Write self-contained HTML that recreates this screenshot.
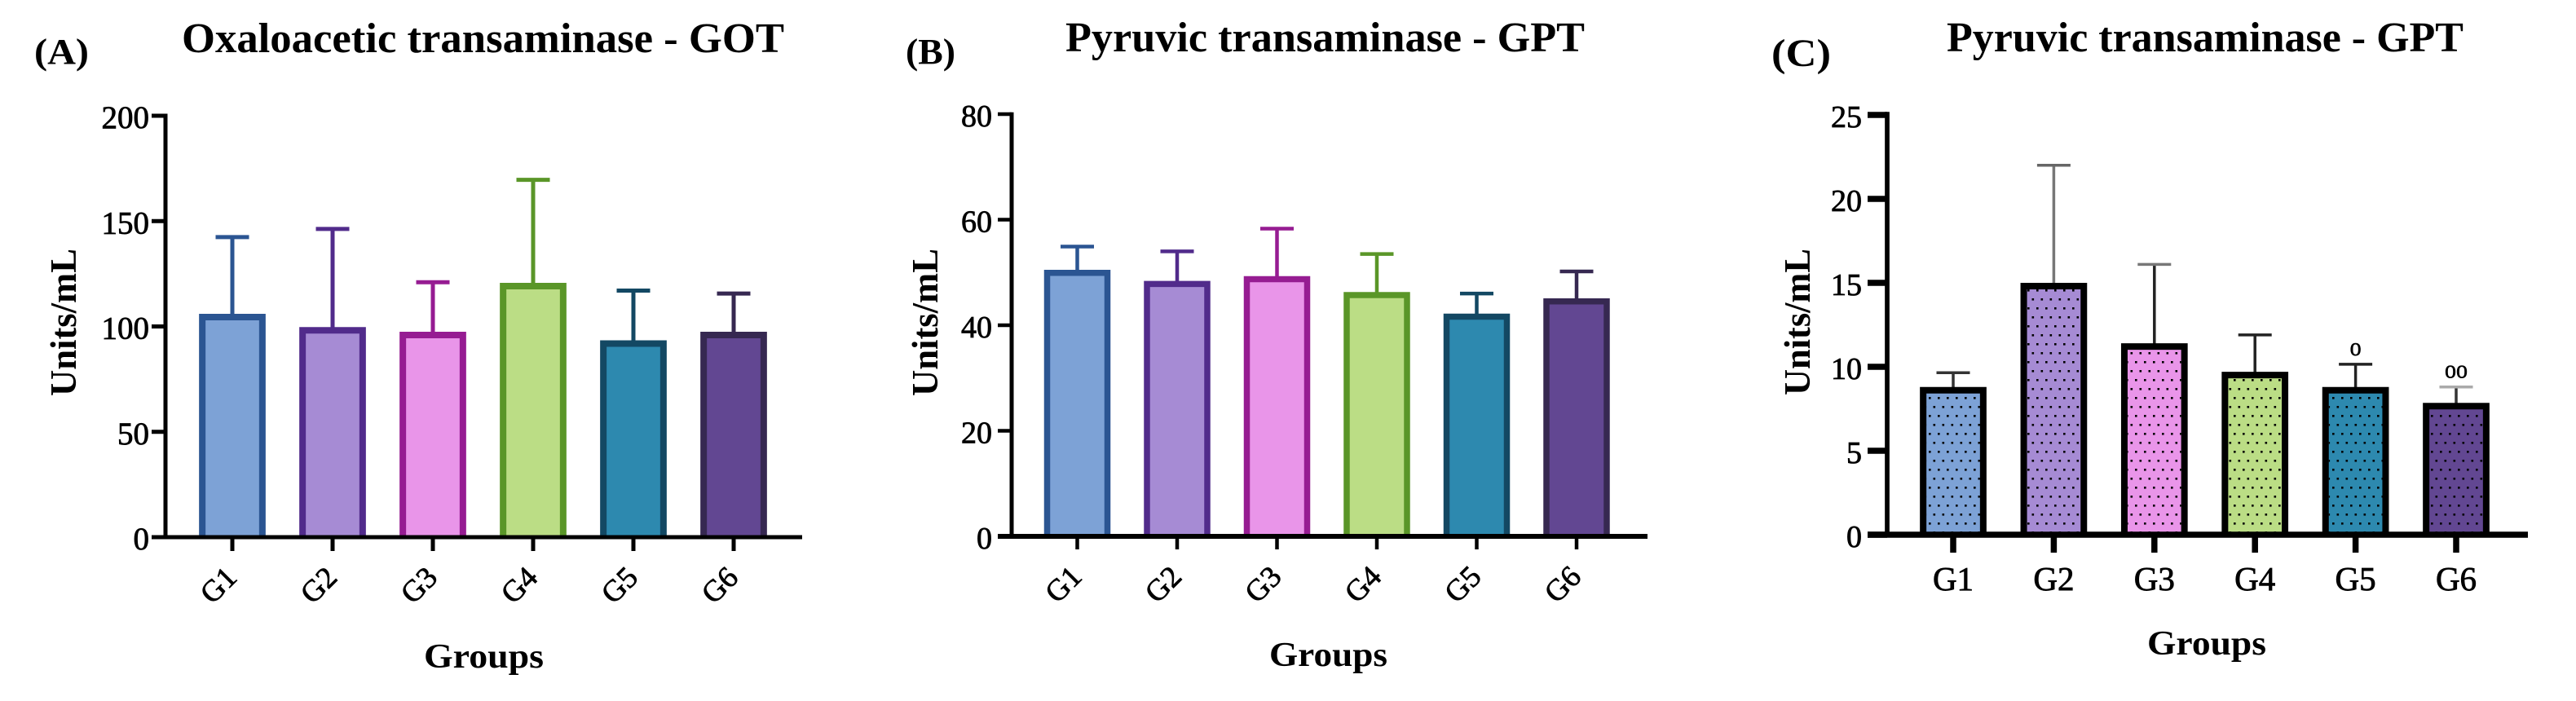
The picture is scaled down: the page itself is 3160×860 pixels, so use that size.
<!DOCTYPE html>
<html lang="en">
<head>
<meta charset="utf-8">
<title>Transaminase bar charts</title>
<style>
html,body{margin:0;padding:0;background:#fff;}
svg{display:block;}
text{font-family:"Liberation Serif",serif;fill:#000;}
.heading{font-weight:bold;font-size:52px;}
.panel-tag{font-weight:bold;}
.axis-title{font-weight:bold;font-size:42px;}
.y-title{font-weight:bold;font-size:45px;}
.tick-label{stroke:#000;stroke-width:.8px;}
</style>
</head>
<body>
<svg id="figure" xmlns="http://www.w3.org/2000/svg" width="3160" height="860" viewBox="0 0 3160 860">
  <defs>
    <pattern id="dots" patternUnits="userSpaceOnUse" width="11" height="22">
      <rect x="1" y="3" width="2.6" height="2.6" fill="#000"/>
      <rect x="6.5" y="14" width="2.6" height="2.6" fill="#000"/>
    </pattern>
  </defs>
  <rect width="3160" height="860" fill="#fff"/>
  <text class="panel-tag" x="42" y="78" font-size="44" textLength="67" lengthAdjust="spacingAndGlyphs">(A)</text>
  <text class="panel-tag" x="1111" y="78" font-size="44" textLength="61" lengthAdjust="spacingAndGlyphs">(B)</text>
  <text class="panel-tag" x="2173" y="81" font-size="48" textLength="73" lengthAdjust="spacingAndGlyphs">(C)</text>
  <text class="heading" x="223" y="64" textLength="739" lengthAdjust="spacingAndGlyphs">Oxaloacetic transaminase - GOT</text>
  <text class="heading" x="1307" y="63" textLength="637" lengthAdjust="spacingAndGlyphs">Pyruvic transaminase - GPT</text>
  <text class="heading" x="2388" y="63" textLength="634" lengthAdjust="spacingAndGlyphs">Pyruvic transaminase - GPT</text>
  <text class="axis-title" x="520" y="819" textLength="147" lengthAdjust="spacingAndGlyphs">Groups</text>
  <text class="axis-title" x="1557" y="817" textLength="145" lengthAdjust="spacingAndGlyphs">Groups</text>
  <text class="axis-title" x="2634" y="803" textLength="146" lengthAdjust="spacingAndGlyphs">Groups</text>
  <text class="y-title" transform="translate(93 486) rotate(-90)" textLength="181" lengthAdjust="spacingAndGlyphs">Units/mL</text>
  <text class="y-title" transform="translate(1150 486) rotate(-90)" textLength="181" lengthAdjust="spacingAndGlyphs">Units/mL</text>
  <text class="y-title" transform="translate(2220 485) rotate(-90)" textLength="180" lengthAdjust="spacingAndGlyphs">Units/mL</text>
</svg>
<script>
// Chart data
var groups = ["G1", "G2", "G3", "G4", "G5", "G6"];
var gotMeans = [106, 99.7, 97.5, 120.7, 93.4, 97.5];
var gotSd = [36.4, 46.6, 23.5, 48.9, 23.6, 18.1];
var gotTicks = [0, 50, 100, 150, 200];
var gptMeans = [50.5, 48.4, 49.3, 46.3, 42.2, 45.1];
var gptSd = [4.4, 5.6, 9, 7.2, 3.8, 5.1];
var gptTicks = [0, 20, 40, 60, 80];
var gptTreatedMeans = [8.8, 15, 11.4, 9.7, 8.8, 7.85];
var gptTreatedSd = [0.85, 7, 4.7, 2.2, 1.35, 0.95];
var gptTreatedTicks = [0, 5, 10, 15, 20, 25];
var gptTreatedMarks = ["", "", "", "", "o", "oo"];

// Series styling
var fills = ["#7DA2D6", "#A68BD4", "#E995E9", "#BBDD85", "#2D89AF", "#624792"];
var strokes = ["#2B5592", "#512B8B", "#961C92", "#5A9628", "#134863", "#362851"];
var blackStrokes = ["#000", "#000", "#000", "#000", "#000", "#000"];
var errorColours = ["#333", "#777", "#222", "#222", "#222", "#333"];
var capColours = ["#333", "#666", "#777", "#222", "#222", "#aaa"];

var svg = document.getElementById("figure");
var NS = "http://www.w3.org/2000/svg";

function shape(tag, props) {
  var el = document.createElementNS(NS, tag);
  for (var k in props) el.setAttribute(k, props[k]);
  svg.appendChild(el);
  return el;
}

function drawPanel(p) {
  function xPos(i) { return p.x0 + i * p.step; }
  function yPos(v) { return p.base - (v / p.max) * p.plotHeight; }

  p.means.forEach(function (mean, i) {
    var cx = xPos(i), top = yPos(mean), errTop = yPos(mean + p.sd[i]);

    var stem = shape("line", { x1: cx, x2: cx, y1: top + 2, y2: errTop, stroke: p.errColours[i], "stroke-width": p.errWidth });
    
    

    var cap = shape("line", { x1: cx - 20.5, x2: cx + 20.5, y1: errTop, y2: errTop, stroke: p.capColours[i], "stroke-width": p.errWidth });
    
    

    var left = cx - p.barWidth / 2 + p.barStroke / 2;
    var right = cx + p.barWidth / 2 - p.barStroke / 2;
    var edge = top + p.barStroke / 2;
    var bar = shape("path", {
      d: "M" + left + " " + p.base + "V" + edge + "H" + right + "V" + p.base,
      fill: fills[i], stroke: p.barStrokes[i], "stroke-width": p.barStroke
    });
    
    

    if (p.dotted) {
      var dots = shape("rect", {
        x: cx - p.barWidth / 2 + p.barStroke, y: top + p.barStroke,
        width: p.barWidth - 2 * p.barStroke, height: Math.max(0, p.base - top - p.barStroke),
        fill: "url(#dots)"
      });
      
      
    }

    if (p.marks && p.marks[i]) {
      var mark = shape("text", {
        x: cx, y: errTop - 11, "text-anchor": "middle", "font-size": 32,
        textLength: p.marks[i].length * 14, lengthAdjust: "spacingAndGlyphs",
        stroke: "#000", "stroke-width": 0.6
      });
      mark.textContent = p.marks[i];
      
      
    }

    var xTick = shape("line", { x1: cx, x2: cx, y1: p.base, y2: p.base + p.xTickLen, stroke: "#000", "stroke-width": p.tickWidth });
    
    

    var label;
    if (p.rotated) {
      label = shape("text", {
        "class": "tick-label", "text-anchor": "middle", "font-size": 37,
        transform: "translate(" + (cx - 17) + " " + p.labelY + ") rotate(-45) translate(0 12)"
      });
    } else {
      label = shape("text", { "class": "tick-label", "text-anchor": "middle", x: cx, y: p.labelY, "font-size": 41 });
    }
    label.textContent = groups[i];
    
    
  });

  p.ticks.forEach(function (t) {
    var y = yPos(t);
    var yTick = shape("line", { x1: p.axisX, x2: p.axisX - p.yTickLen, y1: y, y2: y, stroke: "#000", "stroke-width": p.tickWidth });
    
    

    var yLabel = shape("text", { "class": "tick-label", "text-anchor": "end", x: p.labelEnd, y: y + 15, "font-size": p.tickFont });
    yLabel.textContent = t;
    
    
  });

  var yAxis = shape("line", { x1: p.axisX, x2: p.axisX, y1: yPos(p.max) - p.tickWidth / 2, y2: p.base, stroke: "#000", "stroke-width": p.axisWidth });
  
  

  var xAxis = shape("line", { x1: p.axisX - p.yTickLen, x2: p.axisEnd, y1: p.base, y2: p.base, stroke: "#000", "stroke-width": p.baseWidth });
  
  
}

drawPanel({
  id: "a", means: gotMeans, sd: gotSd, ticks: gotTicks, max: 200,
  x0: 285, step: 123, base: 659, plotHeight: 517,
  axisX: 203, axisEnd: 984, yTickLen: 17, xTickLen: 17, labelEnd: 183, tickFont: 39,
  barWidth: 81.7, barStroke: 8, tickWidth: 5, axisWidth: 5, baseWidth: 5,
  barStrokes: strokes, errColours: strokes, capColours: strokes, errWidth: 5,
  rotated: true, labelY: 718, dotted: false
});

drawPanel({
  id: "b", means: gptMeans, sd: gptSd, ticks: gptTicks, max: 80,
  x0: 1321.5, step: 122.5, base: 658, plotHeight: 518,
  axisX: 1241, axisEnd: 2021, yTickLen: 17, xTickLen: 16, labelEnd: 1217, tickFont: 38,
  barWidth: 81.5, barStroke: 7.5, tickWidth: 4.5, axisWidth: 5, baseWidth: 6,
  barStrokes: strokes, errColours: strokes, capColours: strokes, errWidth: 4.5,
  rotated: true, labelY: 717, dotted: false
});

drawPanel({
  id: "c", means: gptTreatedMeans, sd: gptTreatedSd, ticks: gptTreatedTicks, max: 25,
  x0: 2396, step: 123.4, base: 656, plotHeight: 515,
  axisX: 2315, axisEnd: 3101, yTickLen: 24, xTickLen: 22, labelEnd: 2284, tickFont: 38,
  barWidth: 81.7, barStroke: 8, tickWidth: 7.5, axisWidth: 5.7, baseWidth: 7.5,
  barStrokes: blackStrokes, errColours: errorColours, capColours: capColours, errWidth: 3.5,
  rotated: false, labelY: 724, dotted: true, marks: gptTreatedMarks
});
</script>
</body>
</html>
